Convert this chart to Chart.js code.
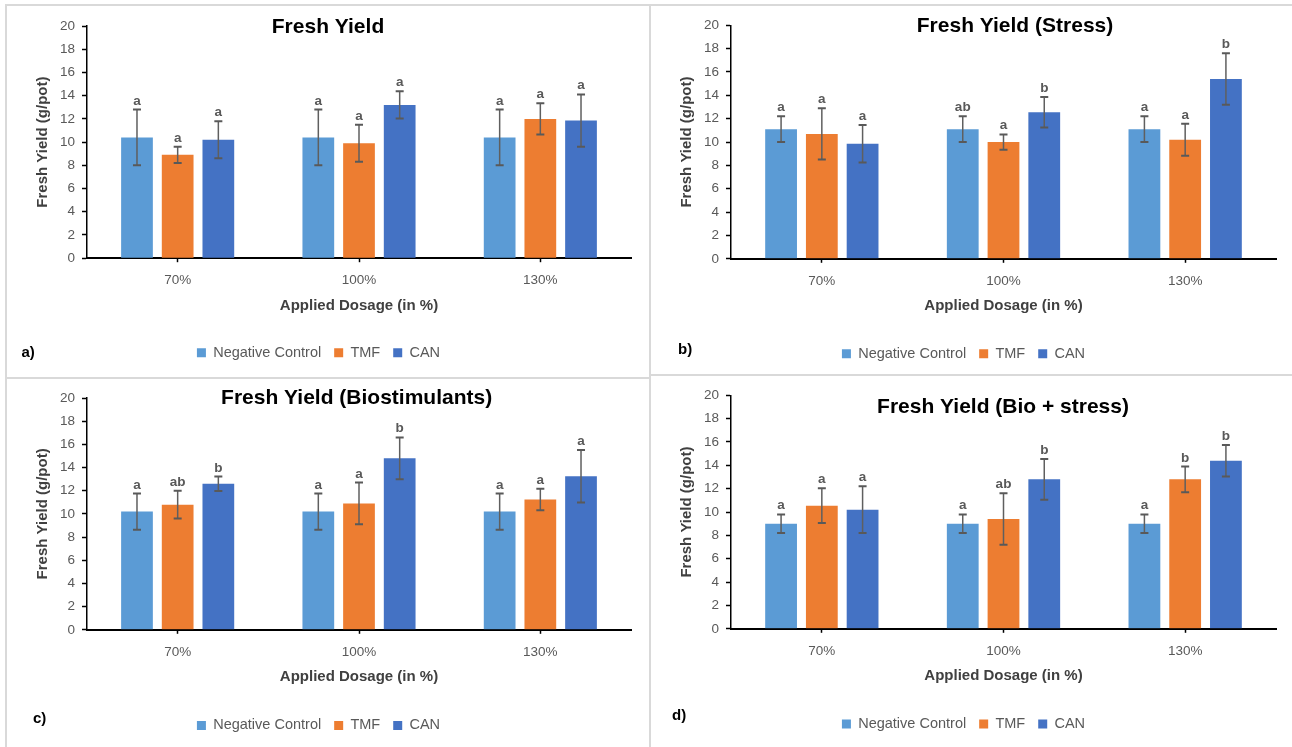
<!DOCTYPE html>
<html>
<head>
<meta charset="utf-8">
<script src="https://cdn.jsdelivr.net/npm/chart.js@4.4.1/dist/chart.umd.min.js"></script>
<style>
  html, body { margin: 0; padding: 0; background: #fff; overflow: hidden; width: 1292px; height: 747px; }
  .panel { position: absolute; border: 2px solid #d9d9d9; box-sizing: border-box; }
  canvas { position: absolute; }
</style>
</head>
<body>
<div class="panel" style="left:5px;top:4px;width:646px;height:375px"></div>
<div class="panel" style="left:649px;top:4px;width:700px;height:372px"></div>
<div class="panel" style="left:5px;top:377px;width:646px;height:400px"></div>
<div class="panel" style="left:649px;top:374px;width:700px;height:400px"></div>

<canvas id="chartA" width="644" height="372" style="left:6px;top:6px"></canvas>
<canvas id="chartB" width="650" height="369" style="left:651px;top:6px"></canvas>
<canvas id="chartC" width="644" height="368" style="left:6px;top:379px"></canvas>
<canvas id="chartD" width="650" height="371" style="left:651px;top:376px"></canvas>

<script>
// categories and series
const dosages = ['70%', '100%', '130%'];
const seriesNames = ['Negative Control', 'TMF', 'CAN'];
const seriesColors = ['#5B9BD5', '#ED7D31', '#4472C4'];

// a) Fresh Yield
const ncA = [10.4, 10.4, 10.4];
const ncErrA = [2.4, 2.4, 2.4];
const tmfA = [8.9, 9.9, 12.0];
const tmfErrA = [0.7, 1.6, 1.35];
const canA = [10.2, 13.2, 11.85];
const canErrA = [1.6, 1.17, 2.25];
const ncSigA = ['a', 'a', 'a'];
const tmfSigA = ['a', 'a', 'a'];
const canSigA = ['a', 'a', 'a'];

// b) Fresh Yield (Stress)
const ncB = [11.1, 11.1, 11.1];
const ncErrB = [1.1, 1.1, 1.1];
const tmfB = [10.7, 10.0, 10.2];
const tmfErrB = [2.2, 0.65, 1.37];
const canB = [9.85, 12.55, 15.4];
const canErrB = [1.6, 1.3, 2.2];
const ncSigB = ['a', 'ab', 'a'];
const tmfSigB = ['a', 'a', 'a'];
const canSigB = ['a', 'b', 'b'];

// c) Fresh Yield (Biostimulants)
const ncC = [10.2, 10.2, 10.2];
const ncErrC = [1.56, 1.56, 1.56];
const tmfC = [10.8, 10.9, 11.25];
const tmfErrC = [1.2, 1.8, 0.93];
const canC = [12.6, 14.8, 13.25];
const canErrC = [0.62, 1.8, 2.27];
const ncSigC = ['a', 'a', 'a'];
const tmfSigC = ['ab', 'a', 'a'];
const canSigC = ['b', 'b', 'a'];

// d) Fresh Yield (Bio + stress)
const ncD = [9.0, 9.0, 9.0];
const ncErrD = [0.8, 0.8, 0.8];
const tmfD = [10.55, 9.4, 12.8];
const tmfErrD = [1.48, 2.2, 1.1];
const canD = [10.2, 12.8, 14.4];
const canErrD = [2.0, 1.75, 1.35];
const ncSigD = ['a', 'a', 'a'];
const tmfSigD = ['a', 'ab', 'b'];
const canSigD = ['a', 'b', 'b'];

const yTicks = [0, 2, 4, 6, 8, 10, 12, 14, 16, 18, 20];

const FONT = "'Liberation Sans', Arial, sans-serif";

function makeChart(canvasId, p) {
  const values = [p.nc, p.tmf, p.can];
  const errors = [p.ncErr, p.tmfErr, p.canErr];
  const sigs = [p.ncSig, p.tmfSig, p.canSig];

  // error bars + significance letters, read from the bar elements and y scale
  const errorBars = {
    id: 'errorBars',
    afterDatasetsDraw(chart) {
      const ctx = chart.ctx;
      const y = chart.scales.y;
      ctx.save();
      chart.data.datasets.forEach((ds, d) => {
        chart.getDatasetMeta(d).data.forEach((bar, i) => {
          const v = ds.data[i], e = errors[d][i];
          const top = y.getPixelForValue(v + e);
          const bot = y.getPixelForValue(v - e);
          ctx.strokeStyle = '#5f5f5f';
          ctx.lineWidth = 1.5;
          ctx.beginPath();
          ctx.moveTo(bar.x, top);
          ctx.lineTo(bar.x, bot);
          ctx.stroke();
          ctx.strokeStyle = '#595959';
          ctx.lineWidth = 2;
          ctx.beginPath();
          ctx.moveTo(bar.x - 4, top);
          ctx.lineTo(bar.x + 4, top);
          ctx.moveTo(bar.x - 4, bot);
          ctx.lineTo(bar.x + 4, bot);
          ctx.stroke();
          ctx.fillStyle = '#595959';
          ctx.font = 'bold 13.5px ' + FONT;
          ctx.textAlign = 'center';
          ctx.textBaseline = 'alphabetic';
          ctx.fillText(sigs[d][i], bar.x, top - 5);
        });
      });
      ctx.restore();
    }
  };

  // chart title and panel letter
  const panelText = {
    id: 'panelText',
    afterDraw(chart) {
      const ctx = chart.ctx;
      ctx.save();
      ctx.fillStyle = '#000';
      ctx.font = 'bold 21px ' + FONT;
      ctx.textAlign = 'center';
      ctx.textBaseline = 'middle';
      ctx.fillText(p.title, chart.width / 2 + p.titleDx, p.titleY);
      ctx.font = 'bold 15px ' + FONT;
      ctx.textAlign = 'left';
      ctx.fillText(p.letter, p.letterX, p.letterY);
      ctx.restore();
    }
  };

  return new Chart(document.getElementById(canvasId), {
    type: 'bar',
    data: {
      labels: dosages,
      datasets: seriesNames.map((name, k) => ({
        label: name,
        data: values[k],
        backgroundColor: seriesColors[k],
        borderWidth: 0,
        categoryPercentage: 0.673,
        barPercentage: 0.78
      }))
    },
    options: {
      responsive: false,
      animation: false,
      layout: { padding: p.pad },
      plugins: {
        title: { display: false },
        tooltip: { enabled: false },
        legend: {
          position: 'bottom',
          labels: {
            boxWidth: 9,
            boxHeight: 9,
            padding: 13,
            color: '#595959',
            font: { family: FONT, size: 14.5 }
          }
        }
      },
      scales: {
        x: {
          afterFit(scale) { scale.height = p.xHeight; },
          grid: { drawOnChartArea: false, offset: false, tickLength: 4, tickColor: '#000', tickWidth: 1.5 },
          border: { color: '#000', width: 2 },
          ticks: { color: '#595959', padding: p.xTickPad, font: { family: FONT, size: 13.5 } },
          title: {
            display: true,
            text: 'Applied Dosage (in %)',
            color: '#404040',
            font: { family: FONT, size: 15, weight: 'bold' },
            padding: { top: 0, bottom: p.xTitlePad }
          }
        },
        y: {
          min: 0,
          max: 20,
          afterFit(scale) { scale.width = p.yWidth; },
          afterBuildTicks(scale) { scale.ticks = yTicks.map(v => ({ value: v })); },
          grid: { drawOnChartArea: false, tickLength: 5, tickColor: '#000', tickWidth: 1.5 },
          border: { color: '#000', width: 1.5 },
          ticks: { color: '#595959', padding: 7, font: { family: FONT, size: 13.5 } },
          title: {
            display: true,
            text: 'Fresh Yield (g/pot)',
            color: '#404040',
            font: { family: FONT, size: 15, weight: 'bold' },
            padding: { top: p.yTitlePad, bottom: 0 }
          }
        }
      }
    },
    plugins: [errorBars, panelText]
  });
}

makeChart('chartA', {
  title: 'Fresh Yield', titleDx: 0, titleY: 21.7,
  letter: 'a)', letterX: 15.5, letterY: 347,
  nc: ncA, ncErr: ncErrA, tmf: tmfA, tmfErr: tmfErrA, can: canA, canErr: canErrA,
  ncSig: ncSigA, tmfSig: tmfSigA, canSig: canSigA,
  pad: { top: 20, right: 19, bottom: 8, left: 0 },
  xHeight: 74.3, xTickPad: 10, xTitlePad: 18, yWidth: 81, yTitlePad: 27.5
});

makeChart('chartB', {
  title: 'Fresh Yield (Stress)', titleDx: 39, titleY: 20.7,
  letter: 'b)', letterX: 27, letterY: 344,
  nc: ncB, ncErr: ncErrB, tmf: tmfB, tmfErr: tmfErrB, can: canB, canErr: canErrB,
  ncSig: ncSigB, tmfSig: tmfSigB, canSig: canSigB,
  pad: { top: 19.3, right: 25, bottom: 4, left: 0 },
  xHeight: 74.7, xTickPad: 10.4, xTitlePad: 18.3, yWidth: 80, yTitlePad: 27
});

makeChart('chartC', {
  title: 'Fresh Yield (Biostimulants)', titleDx: 28.6, titleY: 19.3,
  letter: 'c)', letterX: 27, letterY: 340,
  nc: ncC, ncErr: ncErrC, tmf: tmfC, tmfErr: tmfErrC, can: canC, canErr: canErrC,
  ncSig: ncSigC, tmfSig: tmfSigC, canSig: canSigC,
  pad: { top: 19, right: 19, bottom: 4.3, left: 0 },
  xHeight: 75.4, xTickPad: 10, xTitlePad: 19.7, yWidth: 81, yTitlePad: 27.5
});

makeChart('chartD', {
  title: 'Fresh Yield (Bio + stress)', titleDx: 27, titleY: 31.7,
  letter: 'd)', letterX: 21, letterY: 339.7,
  nc: ncD, ncErr: ncErrD, tmf: tmfD, tmfErr: tmfErrD, can: canD, canErr: canErrD,
  ncSig: ncSigD, tmfSig: tmfSigD, canSig: canSigD,
  pad: { top: 19.3, right: 25, bottom: 5.7, left: 0 },
  xHeight: 75, xTickPad: 10.4, xTitlePad: 18.6, yWidth: 80, yTitlePad: 27
});
</script>
</body>
</html>
